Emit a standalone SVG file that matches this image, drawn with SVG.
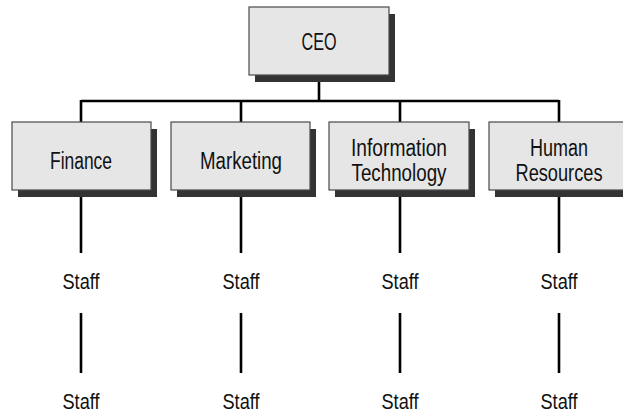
<svg xmlns="http://www.w3.org/2000/svg" width="623" height="413" viewBox="0 0 623 413">
<style>
.shadow{fill:#333333;}
.box{fill:#e6e6e6;stroke:#4a4a4a;stroke-width:1.2;}
.lbl{font-family:"Liberation Sans",Arial,sans-serif;font-size:23.5px;fill:#111;text-anchor:middle;}
.staff{font-family:"Liberation Sans",Arial,sans-serif;font-size:22.5px;fill:#111;text-anchor:middle;}
.ln{stroke:#000;stroke-width:2.6;fill:none;}
</style>
<rect width="623" height="413" fill="#ffffff"/>
<g id="connectors">
<path class="ln" d="M319 75V101M81 101H559M81 100V122M241 100V122M400 100V122M559 100V122"/>
<path class="ln" d="M81 190V253M241 190V253M400 190V253M559 190V253"/>
<path class="ln" d="M81 313V373M241 313V373M400 313V373M559 313V373"/>
</g>
<g id="ceo">
<rect class="shadow" x="255" y="14" width="140" height="68"/>
<rect class="box" x="249" y="7" width="140" height="68"/>
<text class="lbl" x="319" y="50" textLength="35" lengthAdjust="spacingAndGlyphs">CEO</text>
</g>
<g id="finance">
<rect class="shadow" x="18" y="129" width="139" height="68"/>
<rect class="box" x="12" y="122" width="139" height="68"/>
<text class="lbl" x="81" y="169" textLength="62" lengthAdjust="spacingAndGlyphs">Finance</text>
</g>
<g id="marketing">
<rect class="shadow" x="177" y="129" width="139" height="68"/>
<rect class="box" x="171" y="122" width="139" height="68"/>
<text class="lbl" x="241" y="169" textLength="82" lengthAdjust="spacingAndGlyphs">Marketing</text>
</g>
<g id="it">
<rect class="shadow" x="335" y="129" width="140" height="68"/>
<rect class="box" x="329" y="122" width="140" height="68"/>
<text class="lbl" x="399" y="156" textLength="96" lengthAdjust="spacingAndGlyphs">Information</text>
<text class="lbl" x="399" y="181" textLength="95" lengthAdjust="spacingAndGlyphs">Technology</text>
</g>
<g id="hr">
<rect class="shadow" x="495" y="129" width="139" height="68"/>
<rect class="box" x="489" y="122" width="139" height="68"/>
<text class="lbl" x="559" y="156" textLength="58" lengthAdjust="spacingAndGlyphs">Human</text>
<text class="lbl" x="559" y="181" textLength="87" lengthAdjust="spacingAndGlyphs">Resources</text>
</g>
<g id="staff-row1">
<text class="staff" x="81" y="289" textLength="37" lengthAdjust="spacingAndGlyphs">Staff</text>
<text class="staff" x="241" y="289" textLength="37" lengthAdjust="spacingAndGlyphs">Staff</text>
<text class="staff" x="400" y="289" textLength="37" lengthAdjust="spacingAndGlyphs">Staff</text>
<text class="staff" x="559" y="289" textLength="37" lengthAdjust="spacingAndGlyphs">Staff</text>
</g>
<g id="staff-row2">
<text class="staff" x="81" y="409" textLength="37" lengthAdjust="spacingAndGlyphs">Staff</text>
<text class="staff" x="241" y="409" textLength="37" lengthAdjust="spacingAndGlyphs">Staff</text>
<text class="staff" x="400" y="409" textLength="37" lengthAdjust="spacingAndGlyphs">Staff</text>
<text class="staff" x="559" y="409" textLength="37" lengthAdjust="spacingAndGlyphs">Staff</text>
</g>
</svg>
